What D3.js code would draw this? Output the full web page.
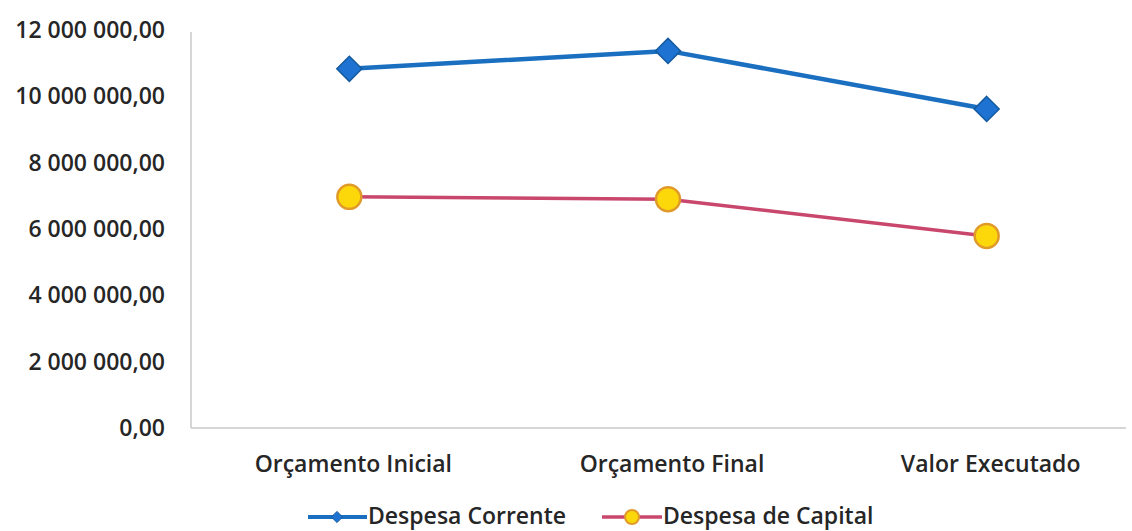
<!DOCTYPE html>
<html><head><meta charset="utf-8">
<script src="https://cdn.jsdelivr.net/npm/d3@7"></script>
<style>body{margin:0;background:#fff}svg{display:block}text{font-family:"Open Sans",sans-serif;fill:#262626}</style>
</head><body><svg id="c" width="1132" height="531"></svg>
<script>
const categories = ["Orçamento Inicial", "Orçamento Final", "Valor Executado"];
const despesaCorrente = [10830000, 11370000, 9620000];
const despesaCapital = [6970000, 6900000, 5790000];
const yTicks = [0, 2000000, 4000000, 6000000, 8000000, 10000000, 12000000];
const seriesNames = ["Despesa Corrente", "Despesa de Capital"];

(function () {
const svg = d3.select("#c");
const pLeft = 190, pRight = 1146, pTop = 30, pBottom = 428;
const x = d3.scalePoint().domain(categories).range([pLeft, pRight]).padding(0.5);
const y = d3.scaleLinear().domain([0, 12000000]).range([pBottom, pTop]);

const fmt = v => d3.format(",.2f")(v).replace(/,/g, " ").replace(".", ",");
const fs = 23, fw = 600;

svg.append("line").attr("x1", 191).attr("x2", 191).attr("y1", 32).attr("y2", pBottom).attr("stroke", "#c8c8c8").attr("stroke-width", 1.5);
svg.append("line").attr("x1", 191).attr("x2", 1126).attr("y1", pBottom).attr("y2", pBottom).attr("stroke", "#c8c8c8").attr("stroke-width", 1.5);

svg.selectAll(".yt").data(yTicks).enter().append("text")
  .attr("x", 165).attr("y", d => y(d) + 8).attr("text-anchor", "end")
  .attr("font-size", fs).attr("font-weight", fw).text(fmt);

svg.selectAll(".xt").data(categories).enter().append("text")
  .attr("x", d => x(d) + 4).attr("y", 472).attr("text-anchor", "middle")
  .attr("font-size", fs).attr("font-weight", fw).text(d => d);

const line = d3.line().x((d, i) => x(categories[i])).y(d => y(d));
const blue = "#1a6fc0", red = "#c9466c";
svg.append("path").datum(despesaCorrente).attr("d", line).attr("fill", "none").attr("stroke", blue).attr("stroke-width", 4.5);
svg.append("path").datum(despesaCapital).attr("d", line).attr("fill", "none").attr("stroke", red).attr("stroke-width", 3.5);

const diamond = d3.symbol().type(d3.symbolDiamond2).size(400);
svg.selectAll(".dm").data(despesaCorrente).enter().append("path")
  .attr("d", diamond).attr("transform", (d, i) => `translate(${x(categories[i])},${y(d)})`)
  .attr("fill", "#1e73d2").attr("stroke", "#155a9e").attr("stroke-width", 1.5);
svg.selectAll(".ci").data(despesaCapital).enter().append("circle")
  .attr("cx", (d, i) => x(categories[i])).attr("cy", d => y(d)).attr("r", 12)
  .attr("fill", "#fcd80a").attr("stroke", "#e09a2a").attr("stroke-width", 2.5);

const lg = svg.append("g");
const ly = 517;
lg.append("line").attr("x1", 308).attr("x2", 367).attr("y1", ly).attr("y2", ly).attr("stroke", blue).attr("stroke-width", 4);
lg.append("path").attr("d", d3.symbol().type(d3.symbolDiamond2).size(80)).attr("transform", `translate(337,${ly})`).attr("fill", "#1e73d2").attr("stroke", "#155a9e");
lg.append("text").attr("x", 368).attr("y", ly + 7).attr("font-size", fs).attr("font-weight", fw).text(seriesNames[0]);
lg.append("line").attr("x1", 602).attr("x2", 662).attr("y1", ly).attr("y2", ly).attr("stroke", red).attr("stroke-width", 3.5);
lg.append("circle").attr("cx", 632).attr("cy", ly).attr("r", 7).attr("fill", "#fcd80a").attr("stroke", "#e09a2a").attr("stroke-width", 2);
lg.append("text").attr("x", 663).attr("y", ly + 7).attr("font-size", fs).attr("font-weight", fw).text(seriesNames[1]);
})();
</script></body></html>
